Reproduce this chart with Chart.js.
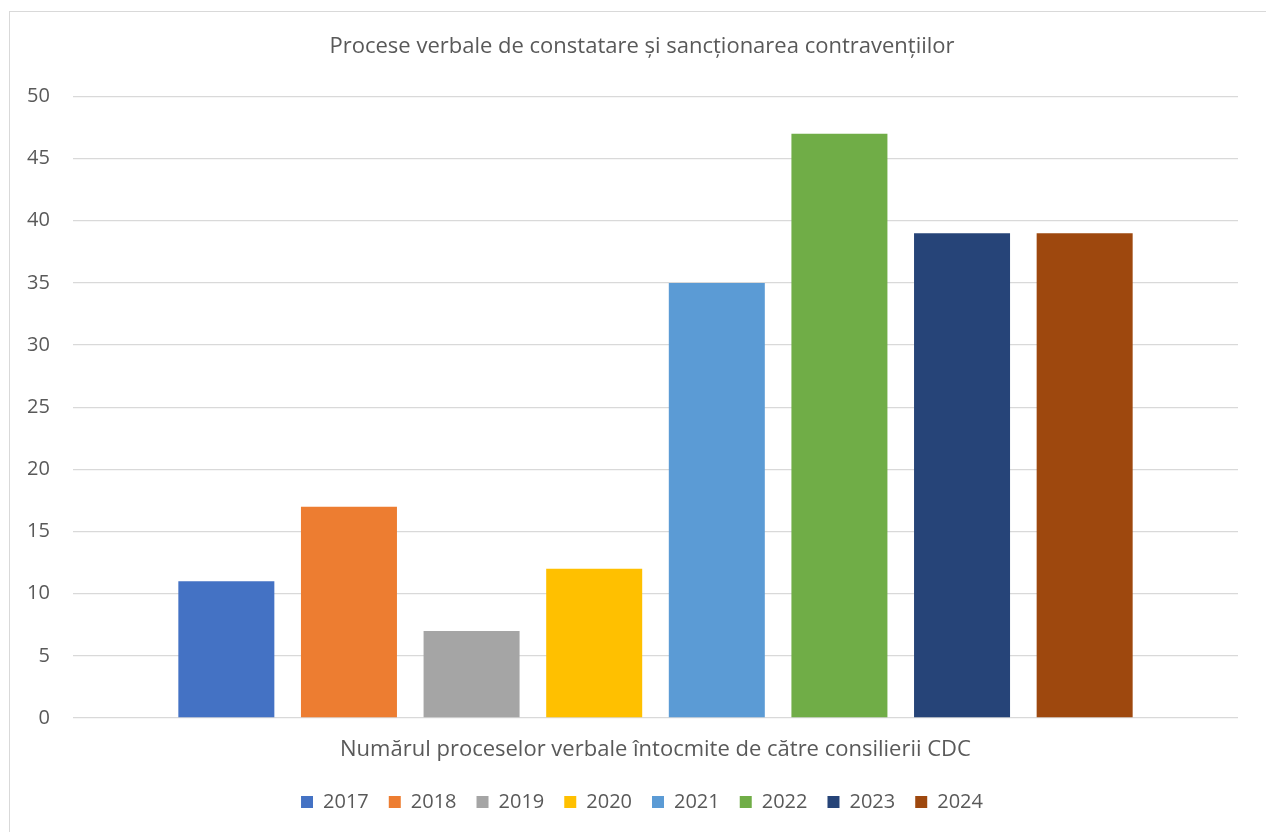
<!DOCTYPE html>
<html>
<head>
<meta charset="utf-8">
<script src="https://cdn.jsdelivr.net/npm/chart.js"></script>
<style>
  html, body { margin: 0; padding: 0; background: #fff; overflow: hidden; }
  #frame {
    position: absolute; left: 9px; top: 11px; width: 1300px; height: 900px;
    border-left: 1px solid #d9d9d9; border-top: 1px solid #d9d9d9;
  }
  #chart { position: absolute; left: 0; top: 0; }
</style>
</head>
<body>
<div id="frame"></div>
<canvas id="chart" width="1266" height="832"></canvas>
<script>
// date
const categorie = ["Numărul proceselor verbale întocmite de către consilierii CDC"];
const ani = ["2017", "2018", "2019", "2020", "2021", "2022", "2023", "2024"];
const valori = [11, 17, 7, 12, 35, 47, 39, 39];
const culori = ["#4472C4", "#ED7D31", "#A5A5A5", "#FFC000", "#5B9BD5", "#70AD47", "#264478", "#9E480E"];
const titlu = "Procese verbale de constatare și sancționarea contravențiilor";

const font = "'Open Sans', 'Noto Sans', sans-serif";
const gri = "#595959";

const datasets = ani.map((an, i) => ({
    label: an,
    data: [valori[i]],
    backgroundColor: culori[i],
    categoryPercentage: 0.842,
    barPercentage: 0.783
}));

new Chart(document.getElementById("chart"), {
    type: 'bar',
    data: { labels: categorie, datasets: datasets },
    options: {
        responsive: false,
        animation: false,
        devicePixelRatio: 1,
        layout: { padding: { left: 46, right: 28, top: 0, bottom: 10 } },
        plugins: {
            title: {
                display: true,
                text: titlu,
                color: gri,
                font: { family: font, size: 22, weight: 'normal' },
                padding: { top: 34, bottom: 36 }
            },
            legend: {
                position: 'bottom',
                labels: {
                    color: gri,
                    font: { family: font, size: 20 },
                    boxWidth: 12,
                    boxHeight: 12,
                    padding: 20
                }
            },
            tooltip: { enabled: false }
        },
        scales: {
            x: {
                afterFit: (s) => { s.height = 54; },
                grid: { display: false, drawTicks: false },
                border: { display: false },
                ticks: { color: gri, font: { family: font, size: 22 }, padding: 19 }
            },
            y: {
                min: 0,
                max: 50,
                afterFit: (s) => { s.width = 27; },
                grid: { color: "#d9d9d9", lineWidth: 1.3, drawTicks: false },
                border: { display: false },
                // mirror + far : etichetele aliniate la dreapta, fara clip
                ticks: { stepSize: 5, color: gri, font: { family: font, size: 20 }, mirror: true, crossAlign: 'far', padding: -46 }
            }
        }
    }
});
</script>
</body>
</html>
